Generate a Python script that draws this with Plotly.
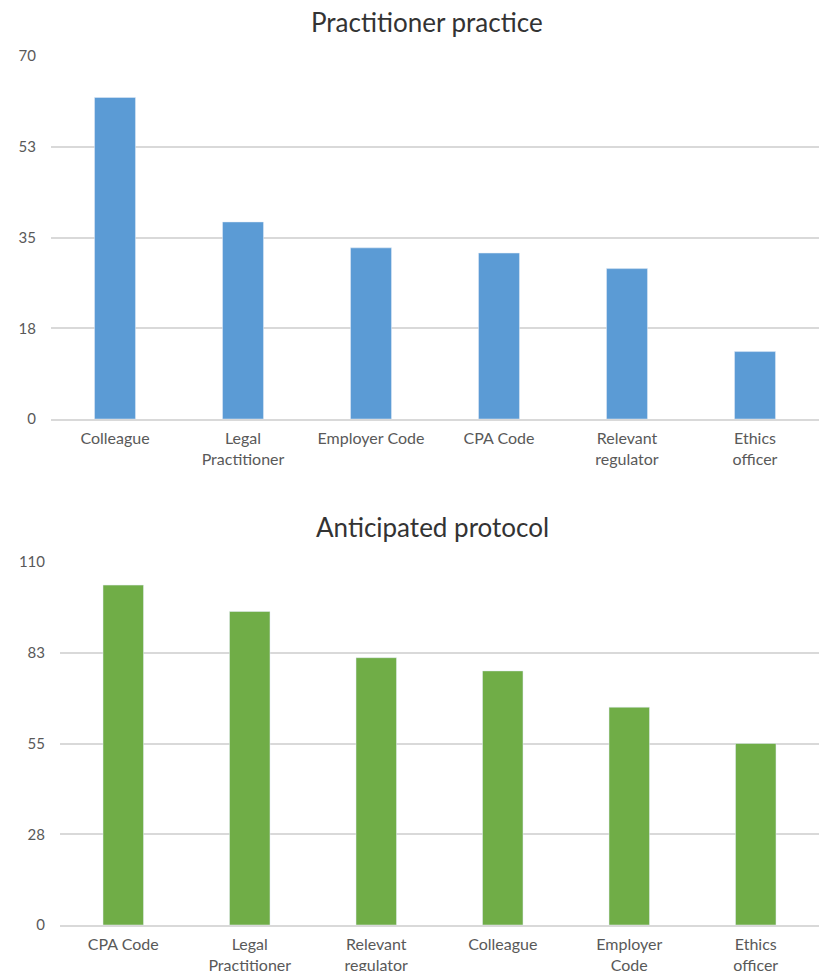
import plotly.graph_objects as go

# Top chart data
top_title = "Practitioner practice"
top_categories = ["Colleague", "Legal<br>Practitioner", "Employer Code", "CPA Code", "Relevant<br>regulator", "Ethics<br>officer"]
top_values = [62, 38, 33, 32, 29, 13]
top_tickvals = [0, 17.5, 35, 52.5, 70]
top_ticktext = ["0", "18", "35", "53", "70"]

# Bottom chart data
bot_title = "Anticipated protocol"
bot_categories = ["CPA Code", "Legal<br>Practitioner", "Relevant<br>regulator", "Colleague", "Employer<br>Code", "Ethics<br>officer"]
bot_values = [103, 95, 81, 77, 66, 55]
bot_tickvals = [0, 27.5, 55, 82.5, 110]
bot_ticktext = ["0", "28", "55", "83", "110"]

FONT = "Lato"
W, H = 819, 971
grid = "#d9d9d9"
tickcol = "#595959"

fig = go.Figure()
fig.add_trace(go.Bar(x=top_categories, y=top_values, marker_color="#5B9BD5",
                     xaxis="x", yaxis="y", showlegend=False))
fig.add_trace(go.Bar(x=bot_categories, y=bot_values, marker_color="#70AD47",
                     xaxis="x2", yaxis="y2", showlegend=False))

def yd(top_px, bot_px):
    return [(H - bot_px) / H, (H - top_px) / H]

axis_common = dict(showgrid=True, gridcolor=grid, gridwidth=1.5, zeroline=False,
                   showline=False, tickfont=dict(family=FONT, size=15, color=tickcol),
                   ticks="", ticklabelstandoff=14, fixedrange=True, automargin=False)

xfont = dict(family=FONT, size=16, color=tickcol)

fig.update_layout(
    width=W, height=H,
    margin=dict(l=0, r=0, t=0, b=0, pad=0, autoexpand=False),
    paper_bgcolor="white", plot_bgcolor="white",
    bargap=0.68,
    font=dict(family=FONT, color=tickcol),
    xaxis=dict(domain=[51 / W, 1], anchor="y", showgrid=False, showline=True,
               linecolor=grid, linewidth=2, ticks="", automargin=False,
               ticklabelstandoff=4, tickfont=xfont),
    yaxis=dict(domain=yd(56, 419), anchor="x", range=[0, 70],
               tickvals=top_tickvals, ticktext=top_ticktext, **axis_common),
    xaxis2=dict(domain=[60 / W, 1], anchor="y2", showgrid=False, showline=True,
                linecolor=grid, linewidth=2, ticks="", automargin=False,
                ticklabelstandoff=4, tickfont=xfont),
    yaxis2=dict(domain=yd(562, 925), anchor="x2", range=[0, 110],
                tickvals=bot_tickvals, ticktext=bot_ticktext, **axis_common),
    annotations=[
        dict(text=top_title, x=427 / W, y=(H - 22) / H, xref="paper", yref="paper",
             showarrow=False, font=dict(family=FONT, size=26, color="#333333"),
             xanchor="center", yanchor="middle"),
        dict(text=bot_title, x=432 / W, y=(H - 527) / H, xref="paper", yref="paper",
             showarrow=False, font=dict(family=FONT, size=26, color="#333333"),
             xanchor="center", yanchor="middle"),
    ],
)

fig.write_html("out.html")
